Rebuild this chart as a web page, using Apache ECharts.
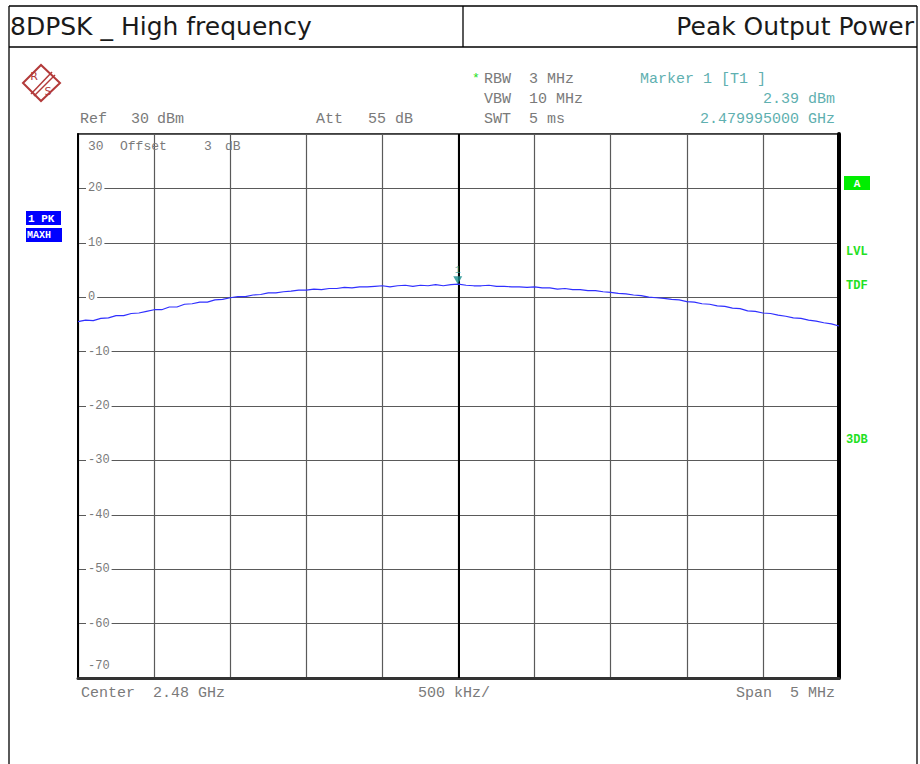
<!DOCTYPE html>
<html><head><meta charset="utf-8">
<script src="https://cdn.jsdelivr.net/npm/echarts@6/dist/echarts.min.js"></script>
<style>html,body{margin:0;padding:0;background:#fff}#c{width:920px;height:764px}</style>
</head><body><div id="c"></div>
<script>
// ---- data ----
const titleLeft = '8DPSK _ High frequency';
const titleRight = 'Peak Output Power';
const freqMHz = [
2477.50,2477.55,2477.60,2477.65,2477.70,2477.75,2477.80,2477.85,2477.90,2477.95,
2478.00,2478.05,2478.10,2478.15,2478.20,2478.25,2478.30,2478.35,2478.40,2478.45,
2478.50,2478.55,2478.60,2478.65,2478.70,2478.75,2478.80,2478.85,2478.90,2478.95,
2479.00,2479.05,2479.10,2479.15,2479.20,2479.25,2479.30,2479.35,2479.40,2479.45,
2479.50,2479.55,2479.60,2479.65,2479.70,2479.75,2479.80,2479.85,2479.90,2479.95,
2480.00,2480.05,2480.10,2480.15,2480.20,2480.25,2480.30,2480.35,2480.40,2480.45,
2480.50,2480.55,2480.60,2480.65,2480.70,2480.75,2480.80,2480.85,2480.90,2480.95,
2481.00,2481.05,2481.10,2481.15,2481.20,2481.25,2481.30,2481.35,2481.40,2481.45,
2481.50,2481.55,2481.60,2481.65,2481.70,2481.75,2481.80,2481.85,2481.90,2481.95,
2482.00,2482.05,2482.10,2482.15,2482.20,2482.25,2482.30,2482.35,2482.40,2482.45,
2482.50];
const levelDbm = [
-4.5,-4.2,-4.3,-3.9,-3.8,-3.4,-3.4,-3.0,-2.9,-2.6,
-2.3,-2.3,-1.8,-1.8,-1.3,-1.2,-0.9,-0.9,-0.5,-0.4,
-0.1,0.1,0.1,0.4,0.5,0.8,0.8,1.0,1.1,1.3,
1.3,1.5,1.4,1.6,1.6,1.8,1.7,1.9,1.9,2.0,
2.1,1.9,2.1,2.2,2.0,2.2,2.1,2.3,2.1,2.3,
2.39,2.2,2.1,2.1,2.2,2.0,2.0,1.9,1.9,1.8,
1.9,1.7,1.7,1.5,1.6,1.4,1.4,1.2,1.2,1.0,
0.9,0.7,0.6,0.4,0.3,0.0,-0.1,-0.2,-0.4,-0.5,
-0.8,-0.9,-1.2,-1.3,-1.6,-1.7,-2.0,-2.1,-2.5,-2.6,
-2.9,-3.0,-3.3,-3.5,-3.8,-3.9,-4.2,-4.4,-4.7,-4.9,
-5.3];
const markerFreq = [2479.995];
const markerLevel = [2.39];
const centerFreq = [2480.0];
const yTicks = [30,20,10,0,-10,-20,-30,-40,-50,-60,-70];
const headerLeft = ['Ref', '30', 'dBm', 'Att', '55', 'dB'];
const settings = ['RBW  3 MHz', 'VBW  10 MHz', 'SWT  5 ms'];
const markerInfo = ['Marker 1 [T1 ]', '2.39 dBm', '2.479995000 GHz'];
const footer = ['Center  2.48 GHz', '500 kHz/', 'Span  5 MHz'];
const sideLabels = ['LVL', 'TDF', '3DB'];
const traceLabels = ['1 PK', 'MAXH'];

const MONO = 'Liberation Mono, Courier New, monospace';
const SANS = 'DejaVu Sans, sans-serif';
const GRAY = '#7a7a7a';
const TEAL = '#5fb0b0';
const GREEN = '#22e022';

function txt(text, x, y, size, family, fill, align, weight) {
  return {type: 'text', z: 10, style: {text: text, x: x, y: y,
    fontSize: size, fontFamily: family, fontWeight: weight || 'normal', fill: fill,
    align: align || 'left', textAlign: align || 'left', verticalAlign: 'middle', textVerticalAlign: 'middle'}};
}
function line(x1, y1, x2, y2, w, c) {
  return {type: 'line', z: 10, shape: {x1: x1, y1: y1, x2: x2, y2: y2}, style: {stroke: c || '#000', lineWidth: w}};
}

const graphics = [
  // frame
  line(9, 6, 917, 6, 1.3), line(9, 6, 9, 764, 1.3), line(917, 6, 917, 764, 1.3),
  line(9, 47, 917, 47, 1.3), line(463, 6, 463, 47, 1.3),
  txt(titleLeft, 10, 26, 25, SANS, '#1a1a1a', 'left'),
  txt(titleRight, 914, 26, 25, SANS, '#1a1a1a', 'right'),
  // R&S logo
  {type: 'polygon', z: 10, shape: {points: [[23,83],[41,65],[60,83],[41,101]]}, style: {fill: 'none', stroke: '#b33a3a', lineWidth: 2}},
  line(31, 94, 52, 72, 1.5, '#b33a3a'), line(34, 96, 55, 75, 1.5, '#b33a3a'),
  txt('R', 34, 76, 11, SANS, '#b33a3a', 'center'),
  txt('S', 48, 91, 11, SANS, '#b33a3a', 'center'),
  // header
  txt(headerLeft[0], 80, 119, 15, MONO, GRAY), txt(headerLeft[1], 131, 119, 15, MONO, GRAY),
  txt(headerLeft[2], 157, 119, 15, MONO, GRAY),
  txt(headerLeft[3], 316, 119, 15, MONO, GRAY), txt(headerLeft[4], 368, 119, 15, MONO, GRAY),
  txt(headerLeft[5], 395, 119, 15, MONO, GRAY),
  txt('*', 472, 78, 13, MONO, GREEN),
  txt(settings[0], 484, 79, 15, MONO, GRAY),
  txt(settings[1], 484, 99, 15, MONO, GRAY),
  txt(settings[2], 484, 119, 15, MONO, GRAY),
  txt(markerInfo[0], 640, 79, 15, MONO, TEAL),
  txt(markerInfo[1], 835, 99, 15, MONO, TEAL, 'right'),
  txt(markerInfo[2], 835, 119, 15, MONO, TEAL, 'right'),
  // in-plot top / bottom labels
  txt('30', 88, 146, 13, MONO, GRAY), txt('Offset', 120, 146, 13, MONO, GRAY),
  txt('3', 204, 146, 13, MONO, GRAY), txt('dB', 225, 146, 13, MONO, GRAY),
  txt('-70', 88, 666, 12, MONO, GRAY),
  // footer
  txt(footer[0], 81, 693, 15, MONO, GRAY),
  txt(footer[1], 418, 693, 15, MONO, GRAY),
  txt(footer[2], 835, 693, 15, MONO, GRAY, 'right'),
  // trace boxes
  {type: 'rect', z: 10, shape: {x: 26, y: 211, width: 35, height: 14}, style: {fill: '#0000ff'}},
  {type: 'rect', z: 10, shape: {x: 26, y: 228, width: 36, height: 14}, style: {fill: '#0000ff'}},
  txt(traceLabels[0], 28, 218.5, 11, MONO, '#fff', 'left', 'bold'),
  txt(traceLabels[1], 27, 235.5, 10, MONO, '#fff', 'left', 'bold'),
  // side labels
  {type: 'rect', z: 10, shape: {x: 844, y: 176, width: 26, height: 14}, style: {fill: '#00ee00'}},
  txt('A', 857, 183.5, 11, MONO, '#fff', 'center', 'bold'),
  txt(sideLabels[0], 846, 252, 12, MONO, GREEN, 'left', 'bold'),
  txt(sideLabels[1], 846, 286, 12, MONO, GREEN, 'left', 'bold'),
  txt(sideLabels[2], 846, 440, 12, MONO, GREEN, 'left', 'bold')
];

const chart = echarts.init(document.getElementById('c'), null, {renderer: 'svg'});
chart.setOption({
  animation: false,
  backgroundColor: '#fff',
  grid: {left: 78, top: 134, right: 81, bottom: 86, show: true, borderColor: '#000', borderWidth: 1.5},
  xAxis: [{
    type: 'value', min: 2477.5, max: 2482.5, interval: 0.5,
    axisLine: {show: true, onZero: false, lineStyle: {color: '#333', width: 3}},
    axisTick: {show: false}, axisLabel: {show: false},
    splitLine: {show: true, lineStyle: {color: '#5a5a5a', width: 1.2}}
  }],
  yAxis: [{
    type: 'value', min: -70, max: 30, interval: 10,
    axisLine: {show: true, onZero: false, lineStyle: {color: '#000', width: 2}},
    axisTick: {show: false},
    axisLabel: {
      inside: true, margin: 8, color: GRAY, fontFamily: MONO, fontSize: 12,
      backgroundColor: '#fff', padding: [0, 2, 0, 2],
      formatter: function (v) { return (v === yTicks[0] || v === yTicks[yTicks.length - 1]) ? '' : String(v); }
    },
    splitLine: {show: true, lineStyle: {color: '#5a5a5a', width: 1.2}}
  }, {
    type: 'value', min: -70, max: 30, interval: 10, position: 'right',
    axisLine: {show: true, onZero: false, lineStyle: {color: '#000', width: 4}},
    axisTick: {show: false}, axisLabel: {show: false}, splitLine: {show: false}
  }],
  series: [{
    type: 'line', xAxisIndex: 0, yAxisIndex: 0,
    data: freqMHz.map(function (f, i) { return [f, levelDbm[i]]; }),
    showSymbol: false, lineStyle: {color: '#3030ff', width: 1.2}, z: 5,
    markLine: {
      silent: true, symbol: 'none', label: {show: false},
      lineStyle: {color: '#000', width: 2, type: 'solid'},
      data: centerFreq.map(function (f) { return {xAxis: f}; })
    }
  }, {
    type: 'scatter', xAxisIndex: 0, yAxisIndex: 0, z: 6,
    data: markerFreq.map(function (f, i) { return [f, markerLevel[i]]; }),
    symbol: 'triangle', symbolRotate: 180, symbolSize: [9, 8], symbolOffset: [0, -4],
    itemStyle: {color: '#1a8f8f'},
    label: {show: true, formatter: '1', position: 'top', distance: 1, color: '#2f9a9a', fontSize: 10, fontFamily: MONO}
  }],
  graphic: graphics
});
</script></body></html>
